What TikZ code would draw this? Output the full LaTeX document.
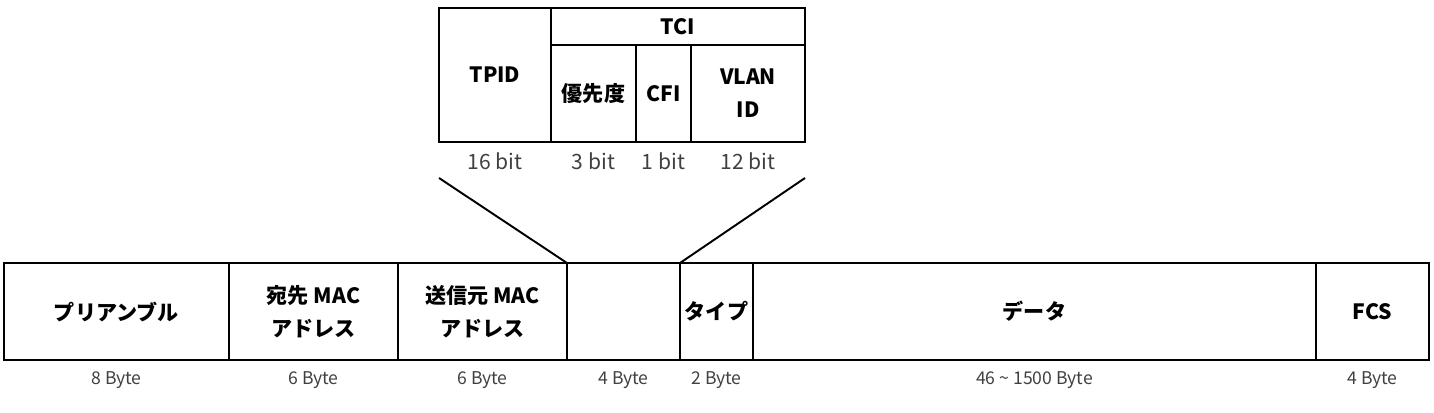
\documentclass[tikz,border=0pt]{standalone}
\usepackage{fontspec}
\setmainfont{Noto Sans CJK JP}
\usetikzlibrary{positioning}

\begin{document}
\begin{tikzpicture}[auto,
    field/.style ={draw, line width=1.1pt, inner sep=0pt, outer sep=0pt, minimum height=1.94cm,
        align=center, font=\fontsize{12}{18.7}\selectfont\bfseries},
    size/.style ={text=black!75, font=\fontsize{10}{12}\selectfont},
    bits/.style ={text=black!75, font=\fontsize{12}{14}\selectfont}]
   \useasboundingbox (0,0) rectangle (28.68,-8.26);

   % Ethernet frame
   \node[field, minimum width=4.5cm, anchor=north west] (pre) at (0.08,-5.26) {プリアンブル};
   \node[field, minimum width=3.38cm, right=0pt of pre] (dst) {宛先 MAC\\アドレス};
   \node[field, minimum width=3.38cm, right=0pt of dst] (src) {送信元 MAC\\アドレス};
   \node[field, minimum width=2.26cm, right=0pt of src] (tag) {};
   \node[field, minimum width=1.46cm, right=0pt of tag] (type) {タイプ};
   \node[field, minimum width=11.26cm, right=0pt of type] (data) {データ};
   \node[field, minimum width=2.26cm, right=0pt of data] (fcs) {FCS};

   \node[size] (preB) at ([yshift=-0.4cm]pre.south) {8 Byte};
   \node[size] (dstB) at ([yshift=-0.4cm]dst.south) {6 Byte};
   \node[size] (srcB) at ([yshift=-0.4cm]src.south) {6 Byte};
   \node[size] (tagB) at ([yshift=-0.4cm]tag.south) {4 Byte};
   \node[size] (typeB) at ([yshift=-0.4cm]type.south) {2 Byte};
   \node[size] (dataB) at ([yshift=-0.4cm]data.south) {46 \textasciitilde{} 1500 Byte};
   \node[size] (fcsB) at ([yshift=-0.4cm]fcs.south) {4 Byte};

   % VLAN tag
   \node[field, minimum width=2.24cm, minimum height=2.68cm, anchor=north west] (tpid) at (8.78,-0.16) {TPID};
   \node[field, minimum width=5.08cm, minimum height=0.74cm, anchor=north west] (tci) at (tpid.north east) {TCI};
   \node[field, minimum width=1.7cm, anchor=north west] (prio) at (tci.south west) {優先度};
   \node[field, minimum width=1.1cm, right=0pt of prio] (cfi) {CFI};
   \node[field, minimum width=2.28cm, right=0pt of cfi] (vlan) {VLAN\\ID};

   \node[bits] (tpidB) at ([yshift=-0.38cm]tpid.south) {16 bit};
   \node[bits] (prioB) at ([yshift=-0.38cm]prio.south) {3 bit};
   \node[bits] (cfiB) at ([yshift=-0.38cm]cfi.south) {1 bit};
   \node[bits] (vlanB) at ([yshift=-0.38cm]vlan.south) {12 bit};

   \coordinate (fanL) at ([yshift=-0.72cm]tpid.south west);
   \coordinate (fanR) at ([yshift=-0.72cm]vlan.south east);
   \draw[line width=1.1pt] (fanL) -- (tag.north west);
   \draw[line width=1.1pt] (fanR) -- (tag.north east);

 \end{tikzpicture}
\end{document}
